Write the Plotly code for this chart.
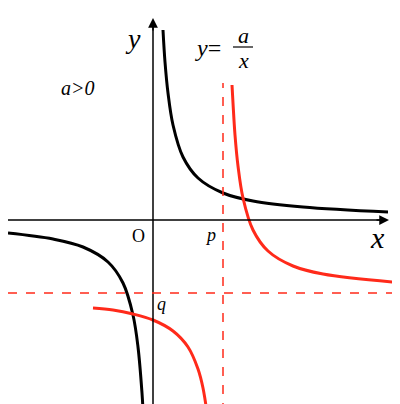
import plotly.graph_objects as go

# points (pixel-based units, origin at O)
black_right_x = [10, 12, 15, 20, 30, 45, 70, 100, 150, 235]
black_right_y = [190, 158, 127, 95, 63, 42, 27, 19, 13, 8]
black_left_x = [-145, -100, -70, -45, -30, -20, -15, -11, -10]
black_left_y = [-13, -19, -27, -42, -63, -95, -127, -173, -190]
red_right_x = [79, 80, 82, 85, 90, 100, 115, 140, 170, 240]
red_right_y = [135, 117, 85, 54, 22, -10, -31, -46, -54, -62]
red_left_x = [-60, -40, -20, 0, 20, 35, 45, 50, 55, 58]
red_left_y = [-88, -90, -94, -100, -111, -127, -149, -168, -200, -225]
p_val = 70
q_val = -73

fig = go.Figure()
for xs, ys, c in [(black_right_x, black_right_y, "black"), (black_left_x, black_left_y, "black"),
                  (red_right_x, red_right_y, "#ff2a1a"), (red_left_x, red_left_y, "#ff2a1a")]:
    fig.add_trace(go.Scatter(x=xs, y=ys, mode="lines", line=dict(color=c, width=3, shape="spline"),
                             showlegend=False, hoverinfo="skip"))

# axes
fig.add_shape(type="line", x0=-145, x1=232, y0=0, y1=0, line=dict(color="black", width=1.5))
fig.add_shape(type="line", x0=0, x1=0, y0=-192, y1=198, line=dict(color="black", width=1.5))
fig.add_annotation(x=236, y=0, ax=-14, ay=0, showarrow=True, arrowhead=2, arrowsize=1.3,
                   arrowwidth=1.5, arrowcolor="black", text="")
fig.add_annotation(x=0, y=202, ax=0, ay=14, showarrow=True, arrowhead=2, arrowsize=1.3,
                   arrowwidth=1.5, arrowcolor="black", text="")
# asymptotes
fig.add_shape(type="line", x0=p_val, x1=p_val, y0=-192, y1=137,
              line=dict(color="#ff2a1a", width=1.5, dash="dash"))
fig.add_shape(type="line", x0=-145, x1=255, y0=q_val, y1=q_val,
              line=dict(color="#ff2a1a", width=1.5, dash="dash"))

f = "Liberation Serif"
def txt(x, y, t, s=20):
    fig.add_annotation(x=x, y=y, text=t, showarrow=False, font=dict(family=f, size=s, color="black"))

txt(-20, 182, "<i>y</i>", 28)
txt(55, 172, "<i>y</i>=", 24)
txt(90, 185, "<i>a</i>", 22)
txt(90, 160, "<i>x</i>", 22)
fig.add_shape(type="line", x0=80, x1=100, y0=173, y1=173, line=dict(color="black", width=1.2))
txt(-75, 132, "<i>a>0</i>", 20)
txt(-15, -16, "O", 18)
txt(57, -15, "<i>p</i>", 18)
txt(8, -84, "<i>q</i>", 18)
txt(224, -17, "<i>x</i>", 30)

fig.update_layout(width=400, height=404, margin=dict(l=0, r=0, t=0, b=0),
                  plot_bgcolor="white", paper_bgcolor="white",
                  xaxis=dict(range=[-145, 255], visible=False, fixedrange=True),
                  yaxis=dict(range=[-192, 212], visible=False, fixedrange=True))
fig.write_html("out.html")
